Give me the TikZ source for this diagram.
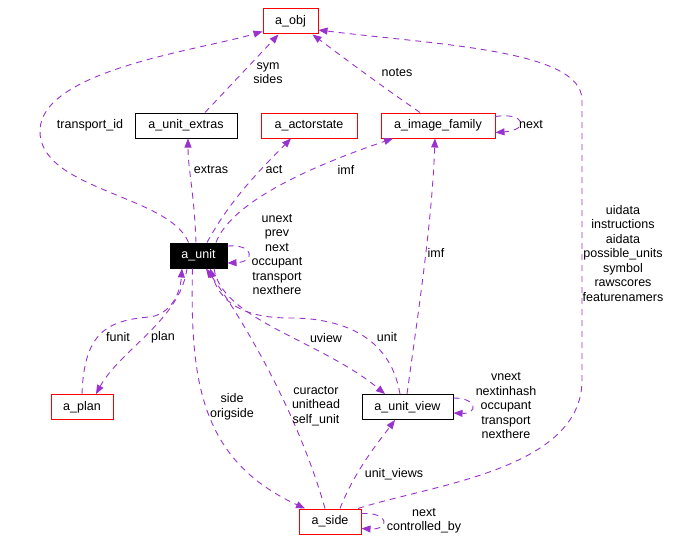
\documentclass[tikz,border=0pt]{standalone}
\usepackage{fontspec}
\setmainfont{Liberation Sans}
\usetikzlibrary{arrows.meta}
\definecolor{relcol}{HTML}{9A32CD}

\begin{document}
\begin{tikzpicture}[x=1pt, y=-1pt, >={Triangle[length=9pt,width=7pt]},
  every node/.style={font=\fontsize{12.5}{14.5}\selectfont},
  cls/.style={draw=red, line width=1pt, minimum height=25pt, inner sep=0pt},
  plaincls/.style={cls, draw=black},
  rel/.style={->, relcol, line width=0.9pt, dash pattern=on 6pt off 5pt},
  lbl/.style={align=center, inner sep=0pt}]
  \useasboundingbox (0,0) rectangle (676,543);

  % classes
  \node[cls, minimum width=55pt] (obj) at (290.5,21.5) {a\_obj};
  \node[plaincls, minimum width=102pt] (extras) at (186,125.5) {a\_unit\_extras};
  \node[cls, minimum width=96pt] (actor) at (309,125.5) {a\_actorstate};
  \node[cls, minimum width=114pt] (imgfam) at (438,125.5) {a\_image\_family};
  \node[plaincls, fill=black, text=white, minimum width=57pt] (unit) at (198.5,255.5) {a\_unit};
  \node[cls, minimum width=62pt] (plan) at (82,407) {a\_plan};
  \node[plaincls, minimum width=91pt] (uview) at (407.5,407) {a\_unit\_view};
  \node[cls, minimum width=62pt] (side) at (330,521.5) {a\_side};

  % relations
  \draw[rel] ([xshift=-10pt]unit.north) .. controls (170,195) and (38,190) .. (40,130)
    .. controls (42,70) and (200,50) .. ([yshift=3pt]obj.south west);
  \draw[rel] ([xshift=19pt]extras.north) -- ([xshift=-12pt]obj.south);
  \draw[rel] ([xshift=-18pt]imgfam.north) .. controls (380,85) and (340,55) .. ([xshift=22pt]obj.south);
  \draw[rel] ([xshift=28pt]side.north) .. controls (430,485) and (582,470) .. (582,380)
    -- (582,100) .. controls (582,50) and (440,45) .. ([yshift=-8.5pt]obj.east);
  \draw[rel] ([yshift=9pt]imgfam.east) .. controls (525,112) and (530,130) .. ([yshift=-7pt]imgfam.east);
  \draw[rel] ([xshift=-2.5pt]unit.north) .. controls (194,190) and (188,170) .. ([xshift=2pt]extras.south);
  \draw[rel] ([xshift=8.5pt]unit.north) .. controls (230,200) and (260,170) .. ([xshift=-18pt]actor.south);
  \draw[rel] ([xshift=17.5pt]unit.north) .. controls (230,205) and (300,170) .. ([xshift=-45pt]imgfam.south);
  \draw[rel] ([yshift=9.5pt]unit.east) .. controls (255,244) and (255,262) .. ([yshift=-7.5pt]unit.east);
  \draw[rel] (plan.north) .. controls (84,335) and (105,320) .. (150,317)
    .. controls (170,314) and (180,295) .. ([xshift=-16.5pt]unit.south);
  \draw[rel] ([xshift=-11.5pt]unit.south) .. controls (180,320) and (120,350) .. ([xshift=14pt]plan.north);
  \draw[rel] ([xshift=-6pt]unit.south) .. controls (190,380) and (200,460) .. ([xshift=-25pt]side.north);
  \draw[rel] ([xshift=-5pt]side.north) .. controls (300,420) and (250,330) .. ([xshift=7.5pt]unit.south);
  \draw[rel] ([xshift=-7.5pt]uview.north) .. controls (390,335) and (340,318) .. (290,318)
    .. controls (240,318) and (220,300) .. ([xshift=11.5pt]unit.south);
  \draw[rel] ([xshift=15.5pt]unit.south) .. controls (222,320) and (320,340) .. ([xshift=-22.5pt]uview.north);
  \draw[rel] ([xshift=-0.5pt]uview.north) .. controls (420,300) and (432,220) .. ([xshift=-3pt]imgfam.south);
  \draw[rel] ([yshift=9pt]uview.east) .. controls (478,398) and (478,414) .. ([yshift=-6pt]uview.east);
  \draw[rel] ([xshift=10pt]side.north) .. controls (355,470) and (380,440) .. ([xshift=-12.5pt]uview.south);
  \draw[rel] ([yshift=8pt]side.east) .. controls (390,512) and (390,530) .. ([yshift=-7pt]side.east);

  % labels
  \node[lbl] (l_tid) at (90,125) {transport\_id};
  \node[lbl] (l_sym) at (268,73) {sym\\sides};
  \node[lbl] (l_notes) at (397,73) {notes};
  \node[lbl] (l_data) at (623,253.5) {uidata\\instructions\\aidata\\possible\_units\\symbol\\rawscores\\featurenamers};
  \node[lbl] (l_imgnext) at (531,125) {next};
  \node[lbl] (l_extras) at (211,170) {extras};
  \node[lbl] (l_act) at (274,170) {act};
  \node[lbl] (l_imf) at (346,170) {imf};
  \node[lbl] (l_unitself) at (277,254.5) {unext\\prev\\next\\occupant\\transport\\nexthere};
  \node[lbl] (l_funit) at (118,337) {funit};
  \node[lbl] (l_plan) at (163,337) {plan};
  \node[lbl] (l_side) at (232,407) {side\\origside};
  \node[lbl] (l_cur) at (316,406) {curactor\\unithead\\self\_unit};
  \node[lbl] (l_unit) at (387,337) {unit};
  \node[lbl] (l_uview) at (326,338) {uview};
  \node[lbl] (l_imf2) at (436,253) {imf};
  \node[lbl] (l_uvself) at (506,406) {vnext\\nextinhash\\occupant\\transport\\nexthere};
  \node[lbl] (l_uviews) at (394,474) {unit\_views};
  \node[lbl] (l_sideself) at (424,520.5) {next\\controlled\_by};
\end{tikzpicture}
\end{document}
